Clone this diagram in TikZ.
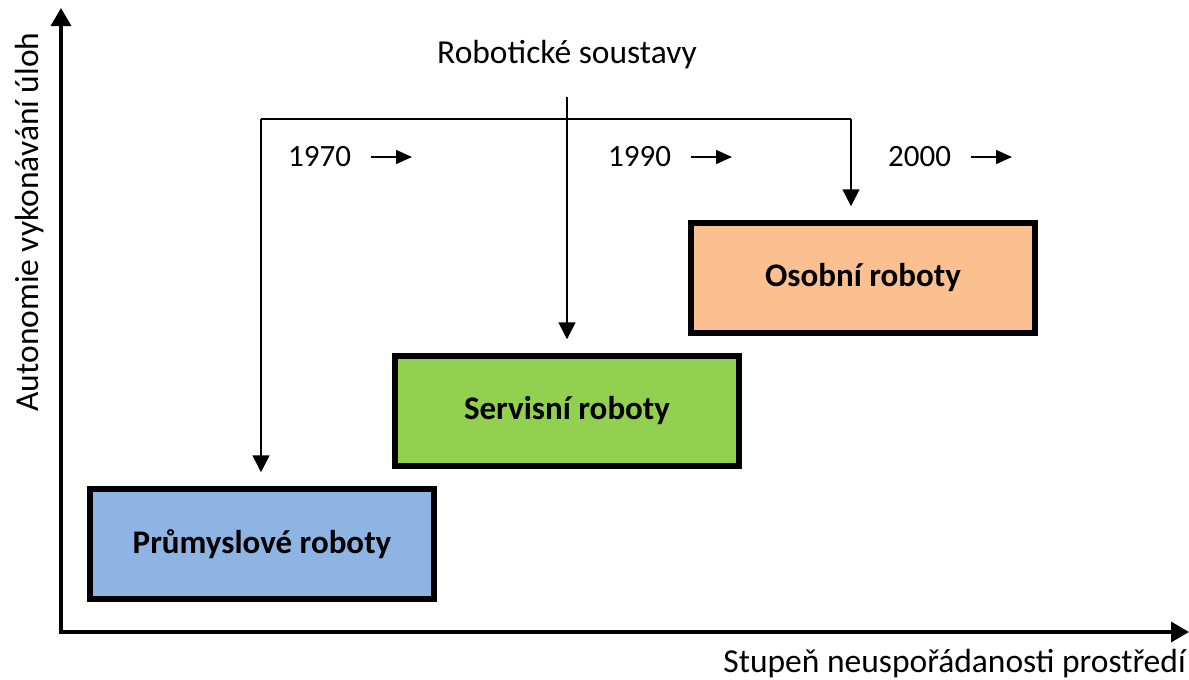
\documentclass[tikz,border=0pt]{standalone}
\usepackage{fontspec}
\setmainfont{Carlito}
\usetikzlibrary{arrows.meta,positioning}

\definecolor{prumblue}{HTML}{8EB4E3}
\definecolor{servgreen}{HTML}{92D050}
\definecolor{osoborange}{HTML}{FAC090}

\tikzset{
  robobox/.style={draw=black,line width=5.5pt,minimum width=344pt,minimum height=110pt,
    font=\fontsize{33}{35}\selectfont\bfseries,inner sep=0pt},
  axis/.style={line width=3.5pt,-{Triangle[length=18pt,width=20pt]}},
  link/.style={line width=1.6pt,-{Triangle[length=17pt,width=17pt]}},
  yeararrow/.style={line width=1.6pt,-{Triangle[length=16pt,width=14pt]}},
  lbl/.style={font=\fontsize{33.5}{36}\selectfont,inner sep=0pt},
  yearlbl/.style={font=\fontsize{31}{33}\selectfont,inner sep=0pt}
}

\begin{document}
\begin{tikzpicture}[x=1pt,y=-1pt]
  \useasboundingbox (0,0) rectangle (1189,680);

  % axes
  \coordinate (origin) at (61,632);
  \coordinate (ytop) at (61,8);
  \coordinate (xend) at (1189,632);
  \draw[axis] (origin) -- (ytop);
  \draw[axis] ([xshift=-1.75pt]origin) -- (xend);
  \node[lbl,rotate=90] (ylabel) at (30,222) {Autonomie vykonávání úloh};
  \node[lbl,anchor=east] (xlabel) at (1186,664) {Stupeň neuspořádanosti prostředí};

  % boxes
  \node[robobox,fill=prumblue] (prum) at (262,544) {Průmyslové roboty};
  \node[robobox,fill=servgreen] (serv) at (567,411) {Servisní roboty};
  \node[robobox,fill=osoborange] (osob) at (863,278) {Osobní roboty};

  % connectors
  \node[lbl] (robsoust) at (567,55) {Robotické soustavy};
  \coordinate (top) at (567,97);
  \coordinate (barL) at (261,119);
  \coordinate (barR) at (851,119);
  \draw[line width=1.6pt] (barL) -- (barR);
  \draw[link,shorten >=14pt] (top) -- (top |- serv.north);
  \draw[link,shorten >=14pt] (barL) -- (barL |- prum.north);
  \draw[link,shorten >=14pt] (barR) -- (barR |- osob.north);

  % years
  \foreach \yr/\x in {1970/288,1990/608,2000/888} {
      \node[yearlbl,anchor=west] (y\yr) at (\x,157) {\yr};
      \coordinate (ya\yr) at (\x+124,157);
      \draw[yeararrow] ([xshift=20pt]y\yr.east) -- (ya\yr);
    }
\end{tikzpicture}
\end{document}
